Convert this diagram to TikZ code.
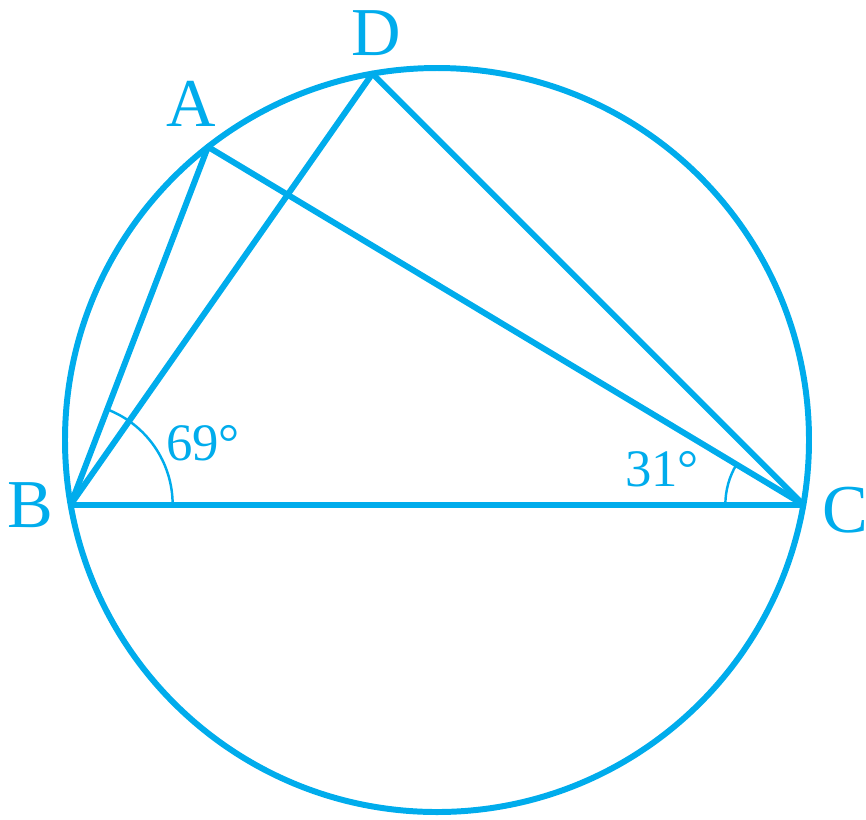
\documentclass[tikz,border=0pt]{standalone}
\usepackage{fontspec}
\setmainfont{Liberation Serif}
\usetikzlibrary{calc}
\definecolor{geo}{RGB}{0,172,236}
\begin{document}
\begin{tikzpicture}[
  thick line/.style={draw=geo, line width=1.7pt, line join=round},
  angarc/.style={draw=geo, line width=0.7pt},
  ptlabel/.style={text=geo, font=\fontsize{19.5}{22}\selectfont, inner sep=0pt},
  anglabel/.style={text=geo, font=\fontsize{15}{18}\selectfont, inner sep=0pt}
]
\useasboundingbox (0,0) rectangle (8.66,-8.19);
\coordinate (O) at (4.37,-4.40);
\coordinate (A) at ($(O)+(128:3.72)$);
\coordinate (B) at ($(O)+(190:3.72)$);
\coordinate (C) at ($(O)+(-10:3.72)$);
\coordinate (D) at ($(O)+(100:3.72)$);
\path[thick line] (O) circle (3.72);
\path[thick line] (B) -- (A) -- (C);
\path[thick line] (B) -- (D) -- (C);
\path[thick line] (B) -- (C);
\path[angarc] ([shift={(0:1.02)}]B) arc (0:69:1.02);
\path[angarc] ([shift={(180:0.78)}]C) arc (180:149:0.78);
\node[ptlabel] (lA) at (1.91,-1.04) {A};
\node[ptlabel] (lB) at (0.30,-5.05) {B};
\node[ptlabel] (lC) at (8.45,-5.10) {C};
\node[ptlabel] (lD) at (3.76,-0.33) {D};
\node[anglabel] (a69) at (2.03,-4.43) {69°};
\node[anglabel] (a31) at (6.62,-4.69) {31°};
\end{tikzpicture}
\end{document}
